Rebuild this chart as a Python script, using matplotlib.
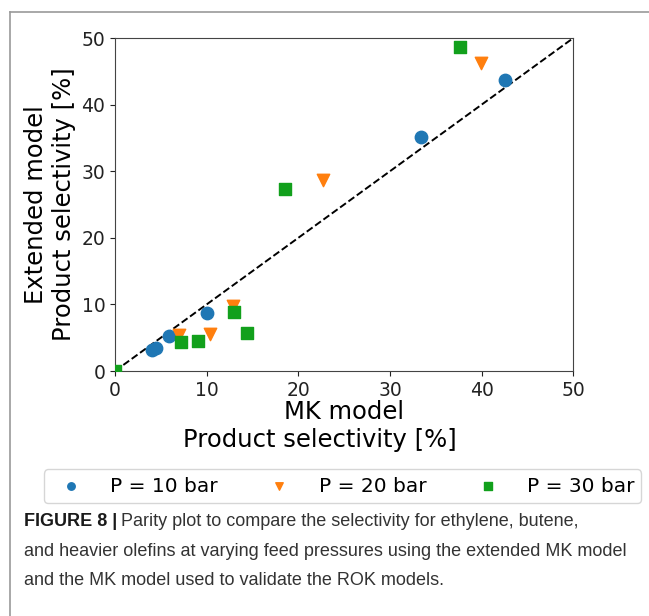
import matplotlib
matplotlib.use("Agg")
import matplotlib.pyplot as plt
from matplotlib.lines import Line2D

# MK model (x) vs extended model (y) selectivity, %
p10_x = [42.6, 33.35, 10.07, 5.9, 4.0, 4.5]
p10_y = [43.7, 35.1, 8.75, 5.25, 3.15, 3.4]
p20_x = [39.9, 22.66, 12.9, 10.36, 7.0]
p20_y = [46.3, 28.7, 9.8, 5.5, 5.4]
p30_x = [37.6, 18.55, 13.0, 14.4, 9.06, 7.2, 0.0]
p30_y = [48.7, 27.3, 8.9, 5.66, 4.55, 4.4, 0.0]
labels = ["P = 10 bar", "P = 20 bar", "P = 30 bar"]
ticks = [0, 10, 20, 30, 40, 50]

fig = plt.figure(figsize=(6.49, 6.16), dpi=100)
ax = fig.add_axes([0.1772, 0.3977, 0.7062, 0.5406])

ax.plot([0, 50], [0, 50], "k--", lw=1.4, zorder=1)
ax.scatter(p10_x, p10_y, s=80, marker="o", color="#1f77b4", label=labels[0], zorder=3)
ax.scatter(p20_x, p20_y, s=80, marker="v", color="#ff7f0e", label=labels[1], zorder=3)
ax.scatter(p30_x, p30_y, s=80, marker="s", color="#12a01c", label=labels[2], zorder=3)

ax.set_xlim(0, 50)
ax.set_ylim(0, 50)
ax.set_xticks(ticks)
ax.set_yticks(ticks)
ax.tick_params(labelsize=13.5, colors="#222222")
for sp in ax.spines.values():
    sp.set_color("#444444")

ax.set_ylabel("Extended model\nProduct selectivity [%]", fontsize=17.5, labelpad=4)
fig.text(0.53, 0.331, "MK model", fontsize=17.5, ha="center", va="center")
fig.text(0.493, 0.286, "Product selectivity [%]", fontsize=17.5, ha="center", va="center")

fig.legend(loc="center", bbox_to_anchor=(0.528, 0.211), ncol=3, fontsize=14.5,
           frameon=True, handletextpad=0.95, columnspacing=2.05, borderpad=0.35,
           markerscale=0.6)

# page frame lines (top and left)
fig.add_artist(Line2D([0.0154, 1.0], [0.9805, 0.9805], color="#9a9a9a", lw=1.2))
fig.add_artist(Line2D([0.0154, 0.0154], [0.0, 0.9805], color="#9a9a9a", lw=1.2))

# caption
fam = ["Liberation Sans", "DejaVu Sans"]
cfs = 13.0
t = fig.text(0.037, 0.1526, "FIGURE 8 |", fontsize=cfs, fontweight="bold", family=fam,
             color="#1a1a1a", va="center")
r = fig.canvas.get_renderer()
x1 = t.get_window_extent(r).x1 / fig.bbox.width
fig.text(x1 + 0.006, 0.1526, "Parity plot to compare the selectivity for ethylene, butene,",
         fontsize=cfs, family=fam, color="#333333", va="center")
fig.text(0.037, 0.1055, "and heavier olefins at varying feed pressures using the extended MK model",
         fontsize=cfs, family=fam, color="#333333", va="center")
fig.text(0.037, 0.0584, "and the MK model used to validate the ROK models.",
         fontsize=cfs, family=fam, color="#333333", va="center")

fig.savefig("out.png", dpi=100)
